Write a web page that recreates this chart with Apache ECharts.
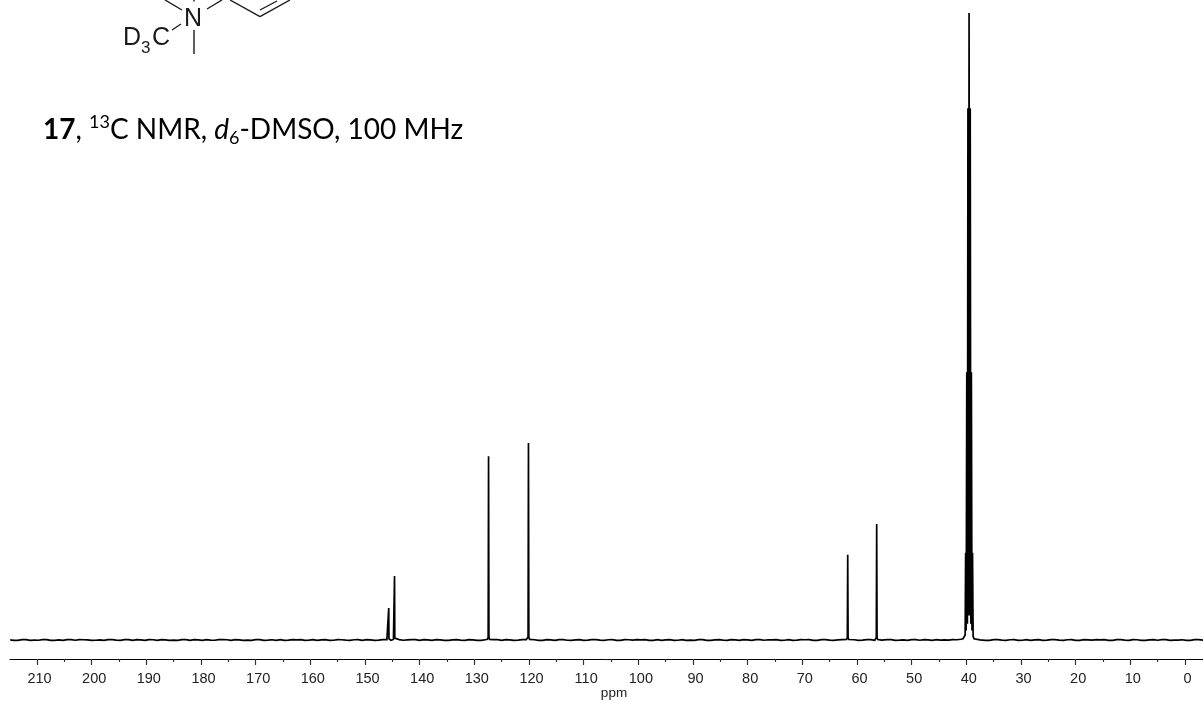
<!DOCTYPE html>
<html><head><meta charset="utf-8">
<style>html,body{margin:0;padding:0;background:#fff}#c{width:1203px;height:702px}</style>
<script src="https://cdn.jsdelivr.net/npm/echarts@6/dist/echarts.min.js"></script>
</head><body><div id="c"></div>
<script>
// Tick labels (ppm)
const majorTicks = [210,200,190,180,170,160,150,140,130,120,110,100,90,80,70,60,50,40,30,20,10,0];
const minorTicks = [205,195,185,175,165,155,145,135,125,115,105,95,85,75,65,55,45,35,25,15,5];
// Baseline noise: [ppm, relative intensity]
const baselinePoints = [
[214.9,.03],[213.5,-.05],[212,.06],[210.5,-.02],[209,.05],[207.5,-.07],[206,.02],[204.5,.07],[203,-.04],[201.5,.04],
[200,-.06],[198.5,.03],[197,.07],[195.5,-.03],[194,.05],[192.5,-.06],[191,.01],[189.5,.06],[188,-.05],[186.5,.03],
[185,-.02],[183.5,.07],[182,-.06],[180.5,.02],[179,.05],[177.5,-.04],[176,.06],[174.5,-.07],[173,.03],[171.5,-.01],
[170,.05],[168.5,-.06],[167,.04],[165.5,.07],[164,-.03],[162.5,.02],[161,-.07],[159.5,.05],[158,.01],[156.5,-.05],
[155,.06],[153.5,-.03],[152,.04],[150.5,-.07],[149,.03],[147.5,-.02],[146,.05],
[143,-.04],[141.5,.06],[140,-.05],[138.5,.02],[137,.07],[135.5,-.06],[134,.03],[132.5,-.02],[131,.06],[129.5,-.05],[128,.04],
[126.5,.05],[125,-.06],[123.5,.03],[122,-.03],[120.5,.07],[119,.04],[117.5,-.06],[116,.02],[114.5,.06],[113,-.04],[111.5,.03],
[110,-.07],[108.5,.05],[107,-.01],[105.5,.04],[104,-.06],[102.5,.07],[101,-.03],[99.5,.02],[98,-.05],[96.5,.06],
[95,.01],[93.5,-.06],[92,.05],[90.5,-.02],[89,.07],[87.5,-.05],[86,.03],[84.5,-.03],[83,.06],[81.5,-.07],
[80,.02],[78.5,.05],[77,-.04],[75.5,.03],[74,-.06],[72.5,.06],[71,-.02],[69.5,.04],[68,-.05],[66.5,.07],
[65,-.03],[63.5,.02],[62.5,-.05],[60.5,.04],[59,-.03],[57.5,.05],[55.5,-.02],[54.5,.05],[53,-.06],[51.5,.03],
[50,.06],[48.5,-.04],[47,.02],[45.5,.05],[44,.02],[42.5,.06],[41.5,.09],[37.5,.03],[36.5,-.05],[35,.06],[33.5,-.03],[32,.04],
[30.5,-.07],[29,.05],[27.5,.01],[26,-.05],[24.5,.06],[23,-.02],[21.5,.04],[20,-.06],[18.5,.07],[17,-.03],
[15.5,.02],[14,-.06],[12.5,.05],[11,-.01],[9.5,.06],[8,-.05],[6.5,.03],[5,-.04],[3.5,.07],[2,-.02],[.5,.04],[-1,-.06],[-2.5,.05],[-3.3,-.02]
];
// Finer jitter between those points
const jitterPoints = [
[214.25,-.06],[212.75,.05],[211.25,-.07],[209.75,-.04],[208.25,.07],[206.75,-.05],[205.25,-.06],[203.75,.05],[202.25,.06],[200.75,.02],
[199.25,-.04],[197.75,-.07],[196.25,.06],[194.75,-.06],[193.25,.07],[191.75,.05],[190.25,-.07],[188.75,.04],[187.25,.06],[185.75,-.06],
[184.25,-.07],[182.75,.05],[181.25,.06],[179.75,-.06],[178.25,-.02],[176.75,.07],[175.25,.04],[173.75,.05],[172.25,-.06],[170.75,-.05],
[169.25,.06],[167.75,-.03],[166.25,-.06],[164.75,-.05],[163.25,.07],[161.75,.05],[160.25,-.02],[158.75,-.06],[157.25,.06],[155.75,-.04],
[154.25,.04],[152.75,-.06],[151.25,.07],[149.75,.05],[148.25,-.07],[146.75,.06],[145.25,-.05],[143.75,.06],[142.25,.03],[140.75,.07],
[139.25,.06],[137.75,-.06],[136.25,.03],[134.75,-.07],[133.25,.06],[131.75,-.06],[130.25,.03],[128.75,-.07],[125.75,.06],[124.25,.05],
[122.75,-.07],[121.25,.06],[119.75,-.05],[118.25,-.07],[116.75,.06],[115.25,-.05],[113.75,.05],[112.25,-.06],[110.75,.06],[109.25,-.03],
[107.75,.06],[106.25,-.06],[104.75,.06],[103.25,-.05],[101.75,.04],[100.25,.06],[98.75,.05],[97.25,-.06],[95.75,-.05],[94.25,.06],
[92.75,-.04],[91.25,-.06],[89.75,-.05],[88.25,.06],[86.75,-.06],[85.25,.06],[83.75,-.06],[82.25,.03],[80.75,.06],[79.25,-.06],
[77.75,.06],[76.25,.04],[74.75,.06],[73.25,-.04],[71.75,-.06],[70.25,.06],[68.75,.05],[67.25,-.06],[65.75,.06],[64.25,-.06],
[62.75,.05],[61.25,-.04],[59.75,-.05],[58.25,.06],[56.75,-.04],[55.25,.06],[53.75,.06],[52.25,-.03],[50.75,-.06],[49.25,.05],
[47.75,.06],[46.25,-.05],[44.75,-.03],[43.25,-.02],[41.75,.04],[37.25,-.04],[35.75,-.05],[34.25,.06],[32.75,-.06],[31.25,.06],
[29.75,-.04],[28.25,-.05],[26.75,.06],[25.25,-.03],[23.75,.05],[22.25,-.06],[20.75,.06],[19.25,-.05],[17.75,.03],[16.25,.06],
[14.75,.05],[13.25,-.06],[11.75,.06],[10.25,-.06],[8.75,.04],[7.25,-.06],[5.75,.06],[4.25,.05],[2.75,-.06],[1.25,-.03],[-.25,-.06],[-1.75,.06]
];
// Signals: [ppm, relative intensity], solvent septet = 100
const peakPoints = [
[145.8,.08],[145.7,.2],[145.66,5.1],[145.62,.2],[145.5,.05],
[144.8,.08],[144.65,.3],[144.6,10.2],[144.55,.3],[144.4,.06],
[127.6,.1],[127.47,.5],[127.4,29.3],[127.33,.5],[127.2,.1],
[120.3,.1],[120.17,.5],[120.1,31.4],[120.03,.5],[119.9,.1],
[61.9,.08],[61.77,.4],[61.7,13.6],[61.63,.4],[61.5,.08],
[56.6,.08],[56.47,.4],[56.4,18.5],[56.33,.4],[56.2,.08],
[41,.12],[40.6,.2],[40.35,.45],[40.22,.8],[40.13,13.9],[40.03,1.5],[39.92,42.7],[39.81,2.6],[39.71,84.8],[39.6,3.9],
[39.5,100],[39.4,3.9],[39.29,84.8],[39.18,2.6],[39.08,42.7],[38.97,1.5],[38.87,13.9],[38.76,.6],[38.6,.2],[38.3,.06]
];
const spectrum = baselinePoints.concat(jitterPoints,peakPoints).sort((a,b)=>b[0]-a[0]);

const bond = (x1,y1,x2,y2)=>({type:'line',silent:true,shape:{x1,y1,x2,y2},style:{stroke:'#1a1a1a',lineWidth:1.4}});
const chemText = (x,y,text,size)=>({type:'text',silent:true,x,y,style:{text,fill:'#1a1a1a',fontFamily:'Liberation Sans',fontSize:size,verticalAlign:'bottom'}});
const F='Lato';
const chart = echarts.init(document.getElementById('c'),null,{renderer:'canvas'});
chart.setOption({
  animation:false,
  backgroundColor:'#fff',
  grid:{left:10,right:0,top:0,bottom:43,outerBoundsMode:'none',containLabel:false},
  xAxis:[{
    type:'value',inverse:true,min:-3.29,max:214.94,position:'bottom',
    name:'ppm',nameLocation:'middle',nameGap:27,nameMoveOverlap:false,
    nameTextStyle:{color:'#222',fontFamily:'Liberation Sans',fontSize:13.5,padding:[0,0,0,15]},
    axisLine:{show:true,onZero:false,lineStyle:{color:'#000',width:1}},
    axisTick:{show:true,length:6,lineStyle:{color:'#333',width:1.2},customValues:majorTicks},
    axisLabel:{show:true,margin:12,color:'#222',fontFamily:'Liberation Sans',fontSize:14.5,padding:[0,0,0,5],customValues:majorTicks,showMinLabel:true,showMaxLabel:true},
    splitLine:{show:false}
  },{
    type:'value',inverse:true,min:-3.29,max:214.94,position:'bottom',
    axisLine:{show:false,onZero:false},
    axisTick:{show:true,length:3,lineStyle:{color:'#333',width:1.2},customValues:minorTicks},
    axisLabel:{show:false},splitLine:{show:false}
  }],
  yAxis:{type:'value',show:false,min:-3.03,max:102.07,splitLine:{show:false}},
  series:[{type:'line',xAxisIndex:0,data:spectrum,showSymbol:false,symbol:'none',smooth:false,clip:true,
    lineStyle:{color:'#000',width:1.7,join:'miter'}}],
  graphic:[
    bond(165,0,182,10),bond(194,0,194,1.5),bond(207,9,222,0),
    bond(172,30,181,24),bond(194,30,194,54),
    bond(230,0,260,16.7),bond(260,16.7,290,0),bond(260,10,277,1),
    chemText(184,32,'N',25),
    chemText(123,51,'D',25),
    chemText(141,57,'3',17),
    chemText(152,51,'C',25),
    {type:'text',silent:true,x:43,y:113,style:{
      text:'{b|17}{n|, }{sup|13}{n|C NMR, }{i|d}{sub|6}{n|-DMSO, 100 MHz}',
      rich:{
        b:{fontFamily:F,fontSize:28,fontWeight:'bold',fill:'#000',lineHeight:34},
        n:{fontFamily:F,fontSize:28,fill:'#000',lineHeight:34},
        i:{fontFamily:F,fontSize:28,fontStyle:'italic',fill:'#000',lineHeight:34},
        sup:{fontFamily:F,fontSize:18,fill:'#000',verticalAlign:'top',lineHeight:24},
        sub:{fontFamily:F,fontSize:18,fill:'#000',verticalAlign:'bottom',lineHeight:24}
      }}}
  ]
});
</script></body></html>
